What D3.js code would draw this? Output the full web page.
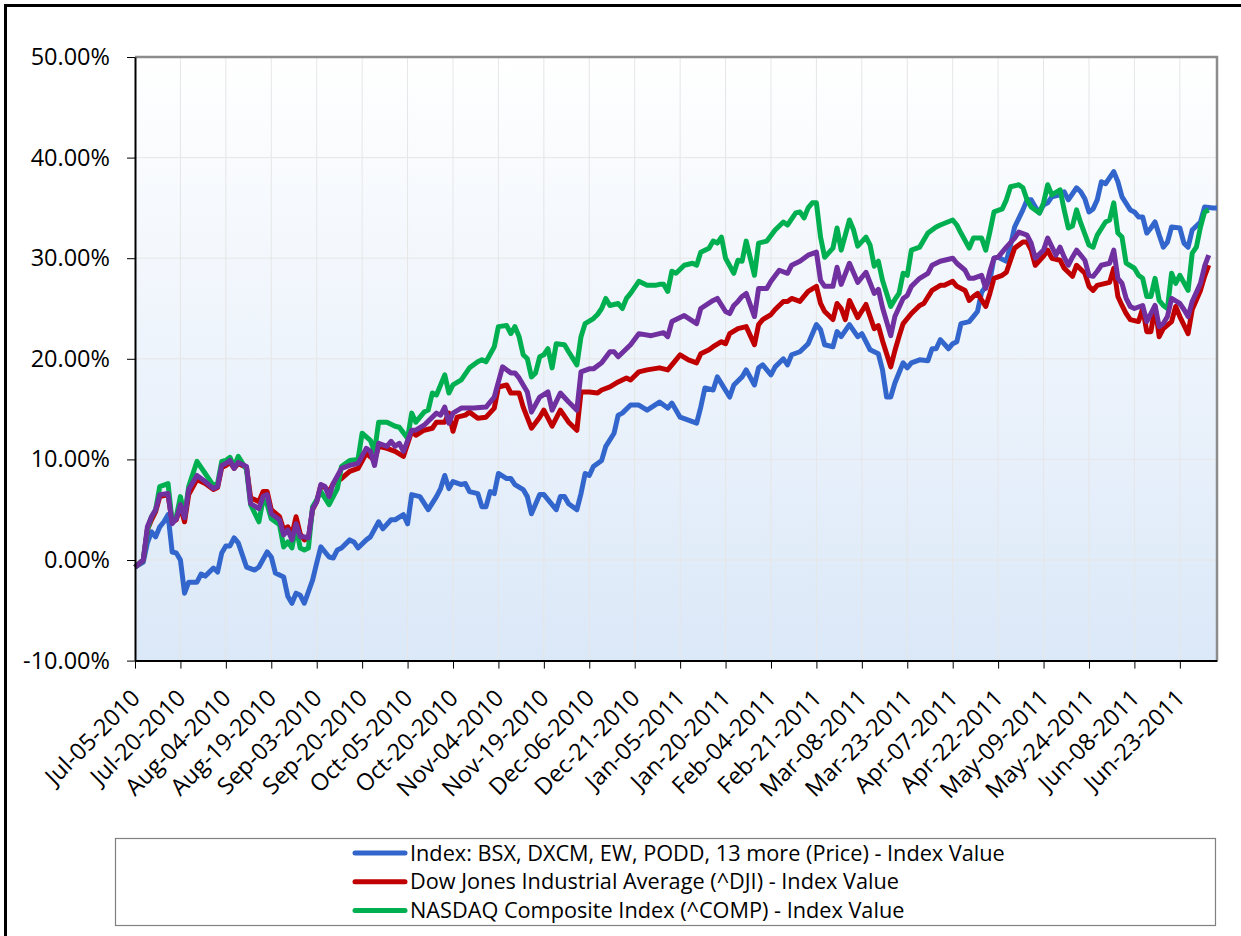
<!DOCTYPE html>
<html>

<head>
    <meta charset="utf-8">
    <style>
        /* Page and chart text styles */
        body {
            margin: 0;
            background: #ffffff;
        }

        .axis text {
            font-family: "Open Sans", sans-serif;
            fill: #000000;
        }

        .line {
            fill: none;
            stroke-width: 5px;
            stroke-linejoin: round;
        }

        .legend text {
            font-family: "Open Sans", sans-serif;
            font-size: 21.7px;
            fill: #000000;
        }
    </style>
</head>

<body>
    <script src="https://d3js.org/d3.v7.min.js"></script>
    <script>
        // Tick labels of the x axis, one every 11 weekdays starting Jul-05-2010
        var xTickLabels = ["Jul-05-2010", "Jul-20-2010", "Aug-04-2010", "Aug-19-2010", "Sep-03-2010", "Sep-20-2010",
            "Oct-05-2010", "Oct-20-2010", "Nov-04-2010", "Nov-19-2010", "Dec-06-2010", "Dec-21-2010",
            "Jan-05-2011", "Jan-20-2011", "Feb-04-2011", "Feb-21-2011", "Mar-08-2011", "Mar-23-2011",
            "Apr-07-2011", "Apr-22-2011", "May-09-2011", "May-24-2011", "Jun-08-2011", "Jun-23-2011"];
        var xTickStep = 11;
        var lastDay = 262;

        // y axis ticks in percent
        var yTicks = [-10, 0, 10, 20, 30, 40, 50];

        // Series names shown in the legend (the purple one has no legend entry)
        var seriesNames = ["Index: BSX, DXCM, EW, PODD, 13 more (Price) - Index Value",
            "Dow Jones Industrial Average (^DJI) - Index Value",
            "NASDAQ Composite Index (^COMP) - Index Value"];
        var seriesColors = ["#3366cc", "#c00000", "#00b050", "#7030a0"];

        // Each point is [weekday number since Jul-05-2010, change in %]
        var indexSeries = [[0, -0.7], [2, -0.2], [3, 1.7], [4, 2.8], [5, 2.3], [6, 3.3], [7, 3.8], [8, 4.5], [9, 0.8], [10, 0.7],
        [11, 0.0], [12, -3.3], [13, -2.2], [15, -2.2], [16, -1.4], [17, -1.6], [19, -0.8], [20, -1.2], [21, 0.7], [22, 1.4],
        [23, 1.4], [24, 2.2], [25, 1.7], [27, -0.7], [29, -1.0], [30, -0.7], [32, 0.8], [33, 0.3], [34, -1.3], [36, -1.7],
        [37, -3.6], [38, -4.3], [39, -3.3], [40, -3.5], [41, -4.3], [43, -2.0], [44, -0.3], [45, 1.3], [47, 0.3], [48, 0.2],
        [49, 1.0], [50, 1.2], [52, 2.0], [53, 1.8], [54, 1.2], [56, 2.0], [57, 2.3], [59, 3.8], [60, 3.1], [62, 4.0],
        [63, 4.0], [65, 4.5], [66, 3.6], [67, 6.5], [69, 6.3], [71, 5.0], [73, 6.3], [74, 7.1], [75, 8.4], [76, 7.1],
        [77, 7.8], [79, 7.5], [80, 7.6], [81, 6.8], [83, 6.6], [84, 5.3], [85, 5.3], [86, 6.8], [87, 6.6], [88, 8.6],
        [90, 8.1], [91, 8.1], [92, 7.5], [94, 7.0], [95, 6.3], [96, 4.6], [98, 6.5], [99, 6.5], [100, 6.0], [102, 5.0],
        [103, 6.3], [104, 6.3], [105, 5.6], [107, 5.0], [108, 6.6], [109, 8.6], [110, 8.4], [111, 9.3], [113, 9.9], [114, 11.3],
        [116, 12.6], [117, 14.4], [118, 14.6], [120, 15.4], [122, 15.4], [124, 14.9], [127, 15.7], [129, 15.1], [130, 15.6], [132, 14.2],
        [136, 13.6], [137, 15.2], [138, 17.1], [140, 16.9], [141, 18.2], [144, 16.2], [145, 17.4], [147, 18.2], [148, 18.9], [150, 17.4],
        [151, 19.1], [152, 19.4], [154, 18.4], [155, 19.2], [157, 20.0], [158, 19.4], [159, 20.4], [161, 20.7], [163, 21.5], [165, 23.4],
        [166, 22.9], [167, 21.4], [169, 21.2], [170, 22.7], [171, 22.2], [173, 23.4], [175, 22.2], [176, 22.5], [178, 20.9], [180, 20.5],
        [181, 18.9], [182, 16.2], [183, 16.2], [184, 17.6], [186, 19.6], [187, 19.1], [188, 19.6], [190, 19.9], [192, 19.8], [193, 21.0],
        [194, 21.0], [195, 21.9], [197, 21.0], [198, 21.5], [199, 21.7], [200, 23.5], [202, 23.7], [203, 24.2], [204, 24.7], [205, 26.6],
        [206, 27.2], [207, 27.8], [208, 30.0], [209, 30.1], [211, 29.7], [212, 31.3], [213, 33.1], [215, 34.8], [216, 35.8], [217, 35.8],
        [218, 35.1], [219, 34.5], [220, 35.3], [221, 35.5], [222, 36.1], [224, 36.3], [225, 36.6], [226, 35.8], [228, 37.0], [229, 36.6],
        [230, 35.9], [231, 34.6], [232, 34.9], [233, 35.8], [234, 37.6], [235, 37.4], [237, 38.6], [238, 37.6], [239, 36.1], [241, 34.8],
        [242, 34.6], [243, 34.1], [244, 34.1], [245, 32.5], [246, 33.0], [247, 33.6], [248, 32.3], [249, 31.1], [250, 31.6], [251, 33.1],
        [253, 33.0], [254, 31.5], [255, 31.1], [256, 32.8], [258, 33.6], [259, 35.1], [261, 35.0], [262, 35.0]];

        var djiSeries = [[0, -0.7], [2, 0.0], [3, 3.0], [4, 4.0], [5, 4.8], [6, 6.3], [8, 6.5], [9, 3.8], [10, 4.0], [11, 5.3],
        [12, 3.8], [13, 6.5], [15, 8.0], [17, 7.6], [19, 7.0], [20, 7.2], [21, 9.2], [22, 9.4], [23, 9.7], [24, 9.1],
        [25, 9.6], [27, 9.2], [28, 6.2], [30, 5.8], [31, 6.8], [32, 6.8], [33, 5.0], [35, 4.3], [36, 3.0], [37, 3.3],
        [38, 2.5], [39, 4.3], [40, 2.6], [41, 2.0], [42, 2.2], [43, 5.0], [44, 5.8], [45, 7.4], [46, 7.2], [47, 6.8],
        [48, 7.6], [50, 8.1], [52, 8.8], [54, 9.1], [56, 10.6], [58, 9.9], [59, 11.3], [61, 11.1], [63, 10.8], [65, 10.3],
        [67, 12.8], [68, 12.4], [70, 12.9], [72, 13.1], [73, 13.7], [75, 13.7], [76, 14.6], [77, 12.8], [78, 14.2], [80, 14.4],
        [81, 14.7], [83, 14.1], [85, 14.2], [87, 15.1], [88, 17.2], [90, 17.4], [91, 16.6], [93, 16.6], [94, 15.2], [96, 13.1],
        [98, 14.2], [99, 14.9], [101, 13.3], [103, 14.9], [105, 13.7], [107, 12.9], [108, 16.7], [110, 16.7], [112, 16.6], [113, 16.9],
        [115, 17.2], [117, 17.7], [118, 17.9], [119, 18.1], [120, 17.9], [122, 18.7], [124, 18.9], [127, 19.1], [129, 18.9], [131, 19.9],
        [132, 20.4], [134, 19.9], [136, 19.6], [137, 20.5], [139, 20.9], [140, 21.2], [142, 21.7], [143, 21.5], [144, 22.5], [146, 23.0],
        [148, 23.2], [150, 21.4], [151, 23.4], [152, 23.9], [154, 24.4], [155, 24.9], [157, 25.7], [158, 25.7], [159, 26.0], [161, 25.7],
        [162, 26.2], [163, 26.7], [165, 27.2], [166, 25.5], [167, 24.7], [169, 23.9], [170, 25.5], [171, 25.0], [172, 23.9], [173, 25.8],
        [175, 24.1], [177, 25.4], [179, 23.0], [180, 23.3], [181, 21.8], [182, 20.5], [183, 19.2], [184, 20.8], [185, 22.2], [186, 23.5],
        [188, 24.5], [190, 25.3], [191, 25.5], [193, 26.8], [195, 27.3], [196, 27.3], [198, 27.7], [199, 27.2], [201, 26.8], [202, 25.8],
        [203, 26.2], [204, 26.5], [206, 25.2], [207, 26.5], [208, 28.0], [210, 28.3], [211, 28.6], [212, 29.8], [213, 31.0], [215, 31.6],
        [216, 31.6], [217, 30.8], [218, 29.3], [220, 30.2], [221, 30.8], [222, 30.0], [224, 29.8], [225, 29.0], [227, 28.2], [228, 29.3],
        [230, 28.5], [231, 27.2], [232, 26.8], [233, 27.3], [235, 27.5], [236, 27.6], [237, 29.0], [238, 26.2], [239, 25.3], [240, 24.5],
        [241, 23.9], [243, 23.7], [244, 25.0], [245, 22.7], [246, 22.7], [247, 25.2], [248, 22.2], [249, 23.0], [251, 23.7], [252, 25.2],
        [253, 24.2], [255, 22.5], [256, 24.9], [258, 26.8], [259, 28.2], [260, 29.3]];

        var compSeries = [[0, -0.7], [2, 0.0], [3, 3.0], [4, 4.3], [5, 5.0], [6, 7.3], [8, 7.6], [9, 3.8], [10, 4.3], [11, 6.3],
        [12, 4.3], [13, 7.3], [15, 9.8], [17, 8.6], [19, 7.4], [20, 7.6], [21, 9.8], [22, 9.9], [23, 10.2], [24, 9.3],
        [25, 10.3], [27, 9.0], [28, 5.5], [30, 3.8], [31, 6.0], [32, 5.5], [33, 4.1], [35, 3.5], [36, 1.3], [37, 1.8],
        [38, 1.2], [39, 3.3], [40, 1.2], [41, 1.0], [42, 1.2], [43, 5.3], [44, 6.0], [45, 6.8], [47, 5.5], [49, 7.1],
        [50, 9.3], [52, 9.9], [54, 10.0], [55, 12.6], [57, 11.9], [58, 10.8], [59, 13.7], [61, 13.7], [63, 13.3], [64, 13.2],
        [66, 12.1], [67, 14.6], [68, 13.7], [70, 14.7], [71, 14.9], [72, 16.6], [73, 16.4], [75, 18.4], [76, 16.6], [77, 17.4],
        [79, 17.9], [81, 19.1], [83, 19.7], [84, 19.9], [85, 19.7], [87, 21.2], [88, 23.2], [90, 23.3], [91, 22.5], [92, 23.2],
        [93, 22.2], [94, 20.4], [95, 20.0], [96, 18.2], [97, 18.6], [98, 20.2], [99, 20.4], [100, 21.0], [101, 19.1], [102, 21.5],
        [104, 21.4], [105, 20.7], [107, 19.4], [108, 22.2], [109, 23.5], [111, 24.0], [112, 24.4], [113, 25.0], [114, 26.0], [115, 25.3],
        [117, 25.5], [118, 25.0], [119, 26.0], [120, 26.5], [122, 27.7], [124, 27.3], [126, 27.3], [127, 27.4], [128, 27.4], [129, 26.7],
        [130, 28.7], [131, 28.5], [133, 29.3], [135, 29.5], [136, 29.3], [137, 30.6], [139, 31.0], [140, 31.7], [141, 31.5], [142, 32.1],
        [143, 30.0], [145, 28.5], [146, 29.8], [147, 29.7], [148, 31.7], [150, 28.3], [151, 31.5], [153, 31.7], [155, 32.8], [157, 33.6],
        [158, 33.3], [160, 34.5], [161, 34.6], [162, 34.0], [163, 35.0], [164, 35.5], [165, 35.5], [166, 32.1], [167, 30.1], [169, 31.0],
        [170, 33.0], [171, 30.8], [173, 33.8], [174, 32.8], [175, 31.2], [177, 32.1], [178, 31.3], [179, 29.2], [180, 29.7], [181, 27.8],
        [183, 25.2], [184, 25.9], [185, 26.5], [186, 28.5], [187, 28.3], [188, 30.8], [190, 31.1], [192, 32.5], [194, 33.1], [195, 33.3],
        [198, 33.8], [199, 33.3], [200, 32.5], [202, 31.0], [203, 32.0], [205, 32.0], [206, 30.8], [207, 32.6], [208, 34.6], [210, 34.9],
        [211, 35.8], [212, 37.1], [214, 37.3], [215, 37.0], [216, 35.8], [217, 35.1], [219, 34.5], [220, 35.5], [221, 37.3], [222, 36.3],
        [224, 36.8], [225, 34.8], [226, 33.0], [227, 33.2], [228, 34.8], [229, 33.5], [231, 31.3], [232, 31.1], [233, 32.3], [235, 33.6],
        [236, 33.8], [237, 35.5], [238, 32.5], [239, 32.1], [240, 29.5], [242, 29.0], [243, 28.3], [244, 28.0], [245, 26.2], [246, 26.2],
        [247, 28.0], [248, 25.8], [249, 25.3], [250, 25.0], [251, 28.5], [252, 27.5], [253, 28.3], [255, 26.8], [256, 30.5], [257, 31.1],
        [258, 33.1], [259, 34.6], [260, 34.8]];

        var purpleSeries = [[0, -0.7], [2, 0.0], [3, 3.3], [4, 4.3], [5, 5.0], [6, 6.5], [8, 6.6], [9, 3.6], [10, 4.1], [11, 5.5],
        [12, 4.2], [13, 7.0], [15, 8.4], [17, 7.8], [19, 7.1], [20, 7.3], [21, 9.4], [22, 9.6], [23, 9.9], [24, 9.1],
        [25, 9.7], [27, 9.3], [28, 5.6], [30, 5.1], [31, 6.3], [32, 6.5], [33, 4.6], [35, 4.0], [36, 2.5], [37, 3.0],
        [38, 2.0], [39, 3.6], [40, 2.3], [41, 2.3], [42, 2.2], [43, 5.1], [44, 5.8], [45, 7.5], [46, 7.3], [47, 6.3],
        [48, 7.6], [50, 9.1], [52, 9.4], [54, 9.6], [56, 11.1], [57, 10.8], [58, 9.4], [59, 11.6], [61, 11.3], [62, 11.8],
        [63, 11.3], [64, 11.6], [65, 10.8], [67, 12.9], [68, 12.9], [70, 13.4], [73, 14.6], [74, 14.4], [75, 15.2], [76, 13.6],
        [77, 14.6], [79, 15.1], [82, 15.1], [85, 15.2], [87, 16.2], [88, 17.7], [89, 19.2], [91, 18.6], [92, 18.6], [93, 18.1],
        [95, 16.7], [96, 14.7], [98, 16.2], [100, 16.7], [101, 14.9], [103, 16.6], [105, 15.7], [107, 14.9], [108, 18.7], [110, 19.0],
        [111, 19.0], [113, 19.6], [115, 20.7], [116, 20.7], [117, 20.2], [119, 21.0], [120, 21.4], [122, 22.5], [125, 22.3], [128, 22.6],
        [129, 22.2], [130, 23.7], [131, 23.9], [133, 24.3], [136, 23.5], [137, 25.0], [140, 25.8], [141, 26.0], [143, 24.7], [144, 24.5],
        [145, 25.3], [146, 25.7], [147, 26.2], [148, 26.5], [150, 24.2], [151, 27.0], [153, 27.0], [154, 27.7], [156, 28.8], [158, 28.5],
        [159, 29.3], [161, 29.7], [162, 30.0], [163, 30.3], [165, 30.6], [166, 27.8], [167, 27.2], [169, 27.2], [170, 29.1], [171, 27.4],
        [173, 29.5], [175, 27.6], [177, 28.6], [179, 26.5], [180, 26.9], [181, 25.1], [183, 22.3], [184, 24.2], [186, 26.0], [187, 26.3],
        [188, 27.2], [190, 28.0], [192, 28.5], [193, 29.3], [195, 29.7], [196, 29.8], [198, 30.0], [199, 29.5], [201, 28.8], [202, 28.0],
        [203, 28.0], [205, 28.3], [206, 27.0], [207, 28.7], [208, 30.0], [209, 30.1], [211, 31.1], [213, 32.0], [214, 32.6], [216, 32.3],
        [217, 31.5], [218, 30.0], [220, 30.8], [221, 32.0], [223, 30.3], [224, 31.1], [225, 30.1], [226, 29.3], [227, 30.1], [228, 30.8],
        [230, 29.8], [231, 28.3], [232, 28.2], [233, 28.7], [234, 29.3], [236, 29.5], [237, 30.8], [238, 28.0], [239, 27.5], [240, 26.0],
        [241, 25.2], [242, 25.0], [244, 25.3], [245, 23.7], [247, 25.3], [248, 23.2], [249, 23.5], [250, 24.2], [251, 26.0], [253, 25.5],
        [254, 24.9], [255, 24.2], [256, 25.7], [258, 27.5], [259, 29.2], [260, 30.3]];

        var margin = { top: 57, right: 24, bottom: 275.4, left: 135 },
            width = 1241 - margin.left - margin.right,
            height = 936 - margin.top - margin.bottom;

        // Weekday number on x, percent change on y
        var x = d3.scaleLinear().domain([0, lastDay]).range([0, width]);
        var y = d3.scaleLinear().domain([-10, 50]).range([height, 0]);

        var line = d3.line()
            .x(function (d) { return x(d[0]); })
            .y(function (d) { return y(d[1]); });

        var root = d3.select("body").append("svg")
            .attr("width", 1241)
            .attr("height", 936);

        // Outer black frame of the picture (right and bottom run off the page)
        root.append("rect")
            .attr("x", 5.5)
            .attr("y", 5.5)
            .attr("width", 1250)
            .attr("height", 950)
            .attr("fill", "none")
            .attr("stroke", "#000")
            .attr("stroke-width", 3);

        // Plot area fill: white at the top, pale blue at the bottom
        var grad = root.append("defs").append("linearGradient")
            .attr("id", "plotFill")
            .attr("x1", 0).attr("y1", 0).attr("x2", 0).attr("y2", 1);
        grad.append("stop").attr("offset", "0%").attr("stop-color", "#ffffff");
        grad.append("stop").attr("offset", "100%").attr("stop-color", "#dbe8f8");

        var svg = root.append("g")
            .attr("transform", "translate(" + margin.left + "," + margin.top + ")");

        svg.append("rect")
            .attr("width", width)
            .attr("height", height)
            .attr("fill", "url(#plotFill)");

        var xTicks = xTickLabels.map(function (d, i) { return i * xTickStep; });

        // Light gridlines
        svg.selectAll(".hgrid")
            .data(yTicks)
            .enter().append("line")
            .attr("class", "hgrid")
            .attr("x1", 0).attr("x2", width)
            .attr("y1", function (d) { return y(d); })
            .attr("y2", function (d) { return y(d); })
            .attr("stroke", "#e6e6e6")
            .attr("stroke-width", 1);

        svg.selectAll(".vgrid")
            .data(xTicks.slice(1))
            .enter().append("line")
            .attr("class", "vgrid")
            .attr("x1", function (d) { return x(d); })
            .attr("x2", function (d) { return x(d); })
            .attr("y1", 0).attr("y2", height)
            .attr("stroke", "#e6e6e6")
            .attr("stroke-width", 1);

        // Grey top and right edges of the plot area
        svg.append("path")
            .attr("d", "M0,0H" + width + "V" + height)
            .attr("fill", "none")
            .attr("stroke", "#8c8c8c")
            .attr("stroke-width", 2.5);

        // The four series, drawn in legend order so purple ends on top
        var allSeries = [indexSeries, djiSeries, compSeries, purpleSeries];
        svg.selectAll(".line")
            .data(allSeries)
            .enter().append("path")
            .attr("class", "line")
            .attr("stroke", function (d, i) { return seriesColors[i]; })
            .attr("d", line);

        // x axis with rotated date labels
        var xAxis = svg.append("g")
            .attr("class", "axis")
            .attr("transform", "translate(0," + height + ")")
            .call(d3.axisBottom(x)
                .tickValues(xTicks)
                .tickFormat(function (d, i) { return xTickLabels[i]; })
                .tickSize(8)
                .tickSizeOuter(0));
        xAxis.attr("font-family", null).attr("font-size", null);
        xAxis.select(".domain").attr("stroke", "#000").attr("stroke-width", 2);
        xAxis.selectAll(".tick line").attr("stroke", "#000");
        xAxis.selectAll("text")
            .attr("x", 0)
            .attr("y", 0)
            .attr("dy", 0)
            .attr("transform", "translate(6,39) rotate(-45)")
            .style("text-anchor", "end")
            .style("font-size", "23.5px");

        // y axis with percent labels
        var yAxis = svg.append("g")
            .attr("class", "axis")
            .call(d3.axisLeft(y)
                .tickValues(yTicks)
                .tickFormat(function (d) { return d.toFixed(2) + "%"; })
                .tickSize(8)
                .tickPadding(17)
                .tickSizeOuter(0));
        yAxis.attr("font-family", null).attr("font-size", null);
        yAxis.select(".domain").attr("stroke", "#000").attr("stroke-width", 2);
        yAxis.selectAll(".tick line").attr("stroke", "#000");
        yAxis.selectAll("text")
            .style("font-size", "23.5px");

        // Legend box below the chart
        var legend = root.append("g").attr("class", "legend");
        legend.append("rect")
            .attr("x", 115.5)
            .attr("y", 838.5)
            .attr("width", 1100)
            .attr("height", 87)
            .attr("fill", "#fff")
            .attr("stroke", "#808080")
            .attr("stroke-width", 1.2);

        var entries = legend.selectAll(".entry")
            .data(seriesNames)
            .enter().append("g")
            .attr("class", "entry")
            .attr("transform", function (d, i) { return "translate(355," + (853 + i * 28.7) + ")"; });

        entries.append("line")
            .attr("x1", 0).attr("x2", 50)
            .attr("stroke", function (d, i) { return seriesColors[i]; })
            .attr("stroke-width", 5)
            .attr("stroke-linecap", "round");

        entries.append("text")
            .attr("x", 55)
            .attr("dy", "0.35em")
            .text(function (d) { return d; });
    </script>
</body>

</html>
